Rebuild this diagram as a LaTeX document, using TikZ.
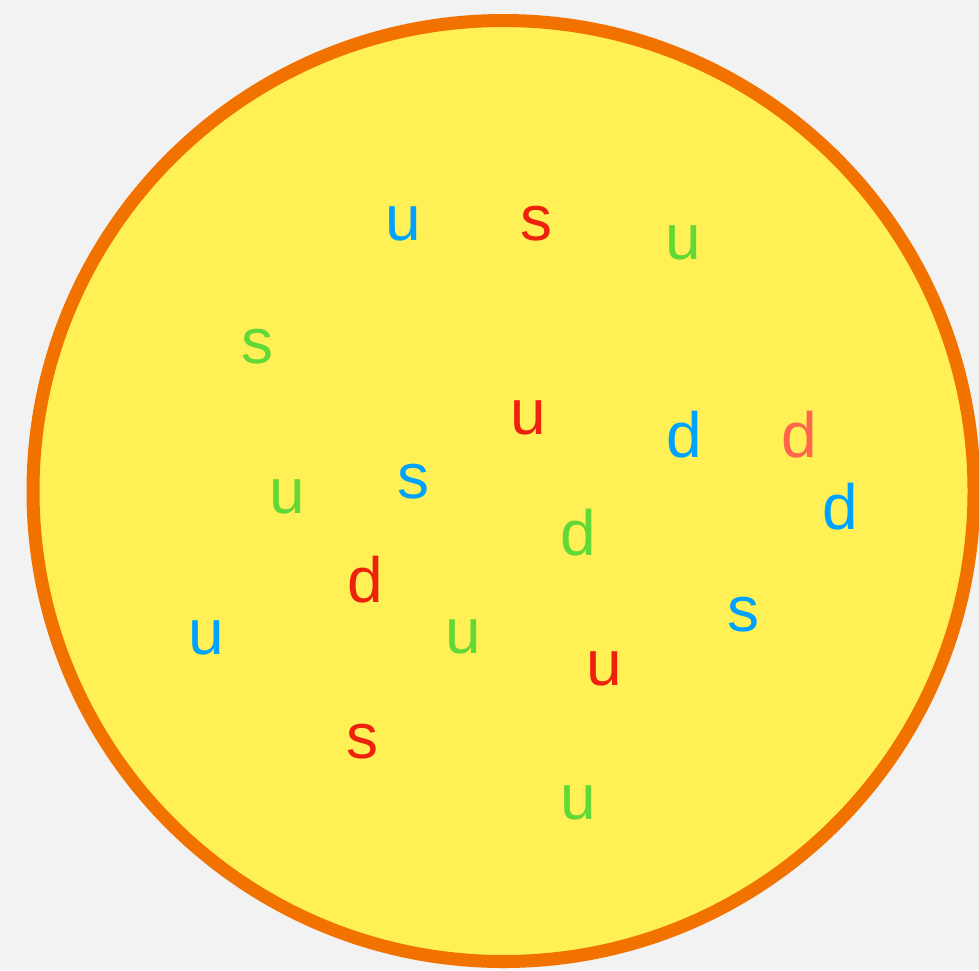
\documentclass[tikz,border=0pt]{standalone}
\usepackage{fontspec}
\setmainfont{Liberation Sans}
\definecolor{bg}{HTML}{F2F2F2}
\definecolor{qyellow}{HTML}{FFF056}
\definecolor{qorange}{HTML}{F27200}
\definecolor{qblue}{HTML}{00A2FF}
\definecolor{qred}{HTML}{EE220C}
\definecolor{qgreen}{HTML}{61D836}
\definecolor{qsalmon}{HTML}{FF644E}
\tikzset{
  quark/.style={inner sep=0pt, text depth=0pt, anchor=center, font=\fontsize{64}{64}\selectfont},
  qb/.style={quark, text=qblue},
  qr/.style={quark, text=qred},
  qg/.style={quark, text=qgreen},
  qs/.style={quark, text=qsalmon},
}
\begin{document}
\begin{tikzpicture}[x=1pt,y=-1pt]
\fill[bg] (0,0) rectangle (979,970);
\useasboundingbox (0,0) rectangle (979,970);
\draw[line width=13pt, draw=qorange, fill=qyellow] (503.5,491) circle[radius=470.5];
\node[qb] (u1) at (403,224) {u};
\node[qr] (s1) at (536,223) {s};
\node[qg] (u2) at (683,243) {u};
\node[qg] (s2) at (257,346) {s};
\node[qr] (u3) at (528,418) {u};
\node[qb] (d1) at (684,434) {d};
\node[qs] (d2) at (799,434) {d};
\node[qb] (d3) at (840,506) {d};
\node[qb] (s3) at (413,481) {s};
\node[qg] (u4) at (287,497) {u};
\node[qg] (d4) at (578,532) {d};
\node[qr] (d5) at (365,579) {d};
\node[qb] (u5) at (206,638) {u};
\node[qg] (u6) at (463,637) {u};
\node[qb] (s4) at (743,614) {s};
\node[qr] (u7) at (604,669) {u};
\node[qr] (s5) at (362,741) {s};
\node[qg] (u8) at (578,803) {u};
\end{tikzpicture}
\end{document}
